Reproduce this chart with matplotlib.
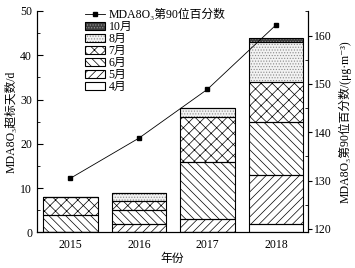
import matplotlib
matplotlib.use("Agg")
import matplotlib.pyplot as plt
from matplotlib.patches import Patch
from matplotlib.lines import Line2D
from matplotlib.ticker import MultipleLocator
from matplotlib.legend_handler import HandlerTuple
import numpy as np

plt.rcParams['font.family'] = ['Liberation Serif', 'DejaVu Serif', 'Noto Sans CJK SC']
plt.rcParams['hatch.linewidth'] = 0.5

years = ['2015', '2016', '2017', '2018']
months = ['4月', '5月', '6月', '7月', '8月', '10月']
apr = [0, 0, 0, 2]
may = [0, 2, 3, 11]
jun = [4, 3, 13, 12]
jul = [4, 2, 10, 9]
aug = [0, 2, 2, 9]
octo = [0, 0, 0, 1]
p90 = [130.5, 138.8, 148.9, 162.2]

series = [apr, may, jun, jul, aug, octo]
styles = {
    '4月': dict(face='white', hatch=None, hc='black'),
    '5月': dict(face='white', hatch='////', hc='black'),
    '6月': dict(face='white', hatch='\\\\\\\\', hc='black'),
    '7月': dict(face='white', hatch='xxx', hc='black'),
    '8月': dict(face='#f2f2f2', hatch='......', hc='#8a8a8a'),
    '10月': dict(face='#3c3c3c', hatch='......', hc='#9a9a9a'),
}

fig = plt.figure(figsize=(3.55, 2.68), dpi=100)
ax = fig.add_axes([0.104, 0.133, 0.764, 0.826])
x = np.arange(len(years))
w = 0.8
bottom = np.zeros(len(years))
for name, vals in zip(months, series):
    st = styles[name]
    vals = np.array(vals, dtype=float)
    ax.bar(x, vals, w, bottom=bottom, color=st['face'], edgecolor=st['hc'],
           hatch=st['hatch'], linewidth=0, zorder=2)
    ax.bar(x, vals, w, bottom=bottom, fill=False, edgecolor='black',
           linewidth=0.8, zorder=3)
    bottom += vals

ax.set_xlim(-0.49, 3.47)
ax.set_ylim(0, 50)
ax.yaxis.set_major_locator(MultipleLocator(10))
ax.yaxis.set_minor_locator(MultipleLocator(5))
ax.set_xticks(x)
ax.set_xticklabels(years)
ax.tick_params(axis='x', length=0, labelsize=8.5, pad=5)
ax.tick_params(axis='y', which='both', direction='in', labelsize=8.5)
ax.tick_params(axis='y', which='major', length=4)
ax.tick_params(axis='y', which='minor', length=2)
ax.spines['top'].set_visible(False)
ax.set_ylabel('MDA8O₃超标天数/d', fontsize=8.5, labelpad=2)
ax.set_xlabel('年份', fontsize=8.5, labelpad=1)

ax2 = ax.twinx()
ax2.plot(x, p90, color='black', linewidth=0.6, marker='s', markersize=3.5, zorder=5)
ax2.set_ylim(119.3, 165.1)
ax2.yaxis.set_major_locator(MultipleLocator(10))
ax2.yaxis.set_minor_locator(MultipleLocator(5))
ax2.set_yticks([120, 130, 140, 150, 160])
ax2.tick_params(axis='y', which='major', direction='out', length=3, labelsize=8.5, pad=1)
ax2.tick_params(axis='y', which='minor', direction='in', length=2)
ax2.spines['top'].set_visible(False)
ax2.set_ylabel('MDA8O₃第90位百分数/(μg·m⁻³)', fontsize=8.5, labelpad=5)

handles = [Line2D([], [], color='black', linewidth=0.6, marker='s', markersize=3.5)]
labels = ['MDA8O₃第90位百分数']
for name in ['10月', '8月', '7月', '6月', '5月', '4月']:
    st = styles[name]
    fill = Patch(facecolor=st['face'], edgecolor=st['hc'], hatch=st['hatch'], linewidth=0)
    outline = Patch(fill=False, edgecolor='black', linewidth=0.8)
    handles.append((fill, outline))
    labels.append(name)
leg = ax.legend(handles, labels, loc='upper left', bbox_to_anchor=(0.145, 1.047),
                frameon=False, fontsize=8.5, handlelength=1.7, handleheight=0.75,
                handletextpad=0.35, labelspacing=0.0, borderpad=0.2,
                handler_map={tuple: HandlerTuple(ndivide=1, pad=0)})
leg.set_zorder(10)

fig.savefig('out.png', dpi=100)
